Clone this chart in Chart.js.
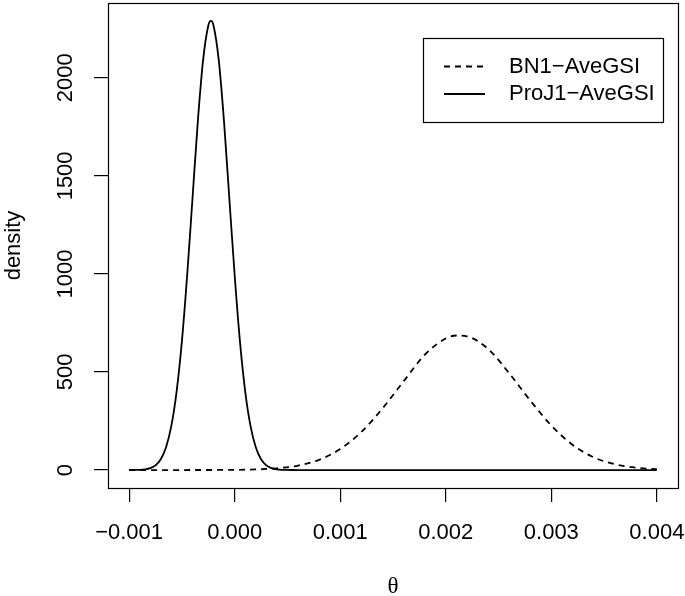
<!DOCTYPE html>
<html>
<head>
<meta charset="utf-8">
<script src="https://cdn.jsdelivr.net/npm/chart.js@4"></script>
<style>
  html, body { margin: 0; padding: 0; background: #fff; }
  #c { display: block; }
</style>
</head>
<body>
<canvas id="c" width="685" height="596"></canvas>
<script>
  // values
  const seriesNames = ["BN1\u2212AveGSI", "ProJ1\u2212AveGSI"];

  const bnTheta = [-0.001, -0.0008, -0.0006, -0.0004, -0.0002, 0, 0.0002, 0.0004, 0.0006, 0.0008,
    0.001, 0.0012, 0.0014, 0.0016, 0.0018, 0.002, 0.0021, 0.0022, 0.0024, 0.0026, 0.0028,
    0.003, 0.0032, 0.0034, 0.0036, 0.0038, 0.004];
  const bnDensity = [0, 0, 0, 0.1, 0.3, 0.9, 3, 8.9, 22.7, 52,
    107, 194, 314, 452, 587, 671, 686, 682, 618, 494, 355,
    227, 129, 65, 30, 11.9, 4.3];

  const projTheta = [-0.001, -0.00095, -0.0009, -0.00085, -0.0008, -0.00075, -0.0007, -0.00065,
    -0.0006, -0.00055, -0.0005, -0.00045, -0.0004, -0.00035, -0.0003, -0.00025, -0.000225,
    -0.0002, -0.00015, -0.0001, -0.00005, 0, 0.00005, 0.0001, 0.00015, 0.0002, 0.00025,
    0.0003, 0.00035, 0.0004, 0.00045, 0.0005, 0.00055, 0.0006, 0.001, 0.002, 0.003, 0.004];
  const projDensity = [0.1, 0.4, 1.2, 3.6, 9.8, 24, 55, 116,
    225, 400, 656, 993, 1381, 1770, 2086, 2266, 2290,
    2266, 2086, 1770, 1381, 993, 656, 400, 225, 116, 55,
    24, 9.8, 3.6, 1.2, 0.4, 0.1, 0, 0, 0, 0, 0];

  const xTicks = [-0.001, 0, 0.001, 0.002, 0.003, 0.004];
  const xTickLabels = ["\u22120.001", "0.000", "0.001", "0.002", "0.003", "0.004"];
  const yTicks = [0, 500, 1000, 1500, 2000];
  const yTickLabels = ["0", "500", "1000", "1500", "2000"];

  const sans = "'Liberation Sans', Arial, Helvetica, sans-serif";

  function points(xs, ys) {
    return xs.map((x, i) => ({ x: x, y: ys[i] }));
  }

  function noPad(s) {
    s.paddingTop = 0;
    s.paddingBottom = 0;
    s.paddingLeft = 0;
    s.paddingRight = 0;
  }

  // plot box + legend drawn like R's base graphics
  const boxLegend = {
    id: "boxLegend",
    afterDraw(chart) {
      const ctx = chart.ctx;
      const a = chart.chartArea;
      ctx.save();
      ctx.strokeStyle = "#000";
      ctx.lineWidth = 1.2;
      ctx.setLineDash([]);
      ctx.strokeRect(Math.round(a.left) + 0.5, Math.round(a.top) + 0.5,
        Math.round(a.right - a.left), Math.round(a.bottom - a.top));

      const bx = 423.5, by = 38.5, bw = 240, bh = 84;
      ctx.strokeRect(bx, by, bw, bh);
      const rows = [66.5, 94];
      ctx.font = "22px " + sans;
      ctx.textBaseline = "middle";
      ctx.textAlign = "left";
      ctx.fillStyle = "#000";
      chart.data.datasets.forEach((ds, i) => {
        ctx.lineWidth = ds.borderWidth;
        ctx.setLineDash(ds.borderDash || []);
        ctx.beginPath();
        ctx.moveTo(444, rows[i]);
        ctx.lineTo(485, rows[i]);
        ctx.stroke();
        ctx.fillText(ds.label, 509, rows[i]);
      });
      ctx.restore();
    }
  };

  new Chart(document.getElementById("c").getContext("2d"), {
    type: "line",
    data: {
      datasets: [
        {
          label: seriesNames[0],
          data: points(bnTheta, bnDensity),
          borderColor: "#000",
          borderWidth: 1.8,
          borderDash: [6, 5],
          pointRadius: 0,
          fill: false,
          cubicInterpolationMode: "monotone"
        },
        {
          label: seriesNames[1],
          data: points(projTheta, projDensity),
          borderColor: "#000",
          borderWidth: 1.8,
          pointRadius: 0,
          fill: false,
          cubicInterpolationMode: "monotone"
        }
      ]
    },
    options: {
      responsive: false,
      animation: false,
      devicePixelRatio: 1,
      layout: { padding: { left: 0, top: 3, right: 7, bottom: 0 } },
      plugins: { legend: { display: false }, tooltip: { enabled: false } },
      scales: {
        x: {
          type: "linear",
          min: -0.0012,
          max: 0.0042,
          afterBuildTicks: (s) => { s.ticks = xTicks.map((v) => ({ value: v })); },
          afterFit: (s) => { s.height = 108; noPad(s); },
          border: { display: false },
          grid: { drawOnChartArea: false, drawTicks: true, tickLength: 14, color: "#000", lineWidth: 1.2 },
          ticks: {
            autoSkip: false,
            maxRotation: 0,
            padding: 18,
            color: "#000",
            font: { family: sans, size: 22 },
            callback: (v, i) => xTickLabels[i]
          },
          title: {
            display: true,
            text: "\u03b8",
            color: "#000",
            padding: { top: 0, bottom: 0 },
            font: { family: "'Liberation Serif', 'DejaVu Serif', serif", size: 23, lineHeight: 0.8 }
          }
        },
        y: {
          type: "linear",
          min: -91.6,
          max: 2381.6,
          afterBuildTicks: (s) => { s.ticks = yTicks.map((v) => ({ value: v })); },
          afterFit: (s) => { s.width = 108; noPad(s); },
          border: { display: false },
          grid: { drawOnChartArea: false, drawTicks: true, tickLength: 14, color: "#000", lineWidth: 1.2 },
          ticks: {
            autoSkip: false,
            minRotation: 90,
            maxRotation: 90,
            crossAlign: "center",
            padding: 4,
            color: "#000",
            font: { family: sans, size: 22 },
            callback: (v, i) => yTickLabels[i]
          },
          title: {
            display: true,
            text: "density",
            color: "#000",
            padding: { top: 3, bottom: 0 },
            font: { family: sans, size: 22, lineHeight: 1 }
          }
        }
      }
    },
    plugins: [boxLegend]
  });
</script>
</body>
</html>
